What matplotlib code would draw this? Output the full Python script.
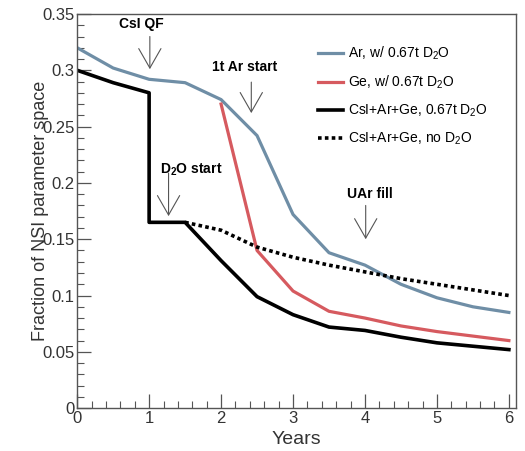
import matplotlib
matplotlib.use("Agg")
import matplotlib.pyplot as plt
from matplotlib.ticker import MultipleLocator, FixedLocator

plt.rcParams['font.family'] = ['Liberation Sans', 'DejaVu Sans']
plt.rcParams['mathtext.fontset'] = 'custom'
plt.rcParams['mathtext.rm'] = 'Liberation Sans'
plt.rcParams['mathtext.bf'] = 'Liberation Sans:bold'
plt.rcParams['mathtext.it'] = 'Liberation Sans:italic'

years = [0, 0.5, 1, 1.5, 2, 2.5, 3, 3.5, 4, 4.5, 5, 5.5, 6]
ar = [0.320, 0.302, 0.292, 0.289, 0.274, 0.242, 0.172, 0.138, 0.127, 0.110, 0.098, 0.090, 0.085]

ge_years = [2, 2.5, 3, 3.5, 4, 4.5, 5, 5.5, 6]
ge = [0.270, 0.140, 0.104, 0.086, 0.080, 0.073, 0.068, 0.064, 0.060]

comb_years = [0, 0.5, 1, 1, 1.5, 2, 2.5, 3, 3.5, 4, 4.5, 5, 5.5, 6]
comb = [0.300, 0.289, 0.280, 0.165, 0.165, 0.131, 0.099, 0.083, 0.072, 0.069, 0.063, 0.058, 0.055, 0.052]

nod2o_years = [1.5, 2, 2.5, 3, 3.5, 4, 4.5, 5, 5.5, 6]
nod2o = [0.165, 0.158, 0.143, 0.134, 0.127, 0.121, 0.115, 0.110, 0.105, 0.100]

# (text, arrow x, arrow start y, arrow tip y, text x, text y)
annotations = [
    ("CsI QF", 1.01, 0.330, 0.301, 0.89, 0.341),
    (r"D$_\mathbf{2}$O start", 1.27, 0.2087, 0.1705, 1.58, 0.212),
    ("1t Ar start", 2.42, 0.2895, 0.262, 2.33, 0.3033),
    ("UAr fill", 4.01, 0.180, 0.150, 4.07, 0.190),
]

fig = plt.figure(figsize=(5.25, 4.51), dpi=100)
ax = fig.add_axes([0.147, 0.095, 0.836, 0.874])

ax.plot(years, ar, color='#6f8ea6', lw=2.3, label='Ar, w/ 0.67t D$_2$O')
ax.plot(ge_years, ge, color='#d65a5f', lw=2.3, label='Ge, w/ 0.67t D$_2$O')
ax.plot(comb_years, comb, color='black', lw=2.6, label='CsI+Ar+Ge, 0.67t D$_2$O')
ax.plot(nod2o_years, nod2o, color='black', lw=2.6, ls=(0, (1, 0.9)), label='CsI+Ar+Ge, no D$_2$O')

for txt, x, y0, y1, tx, ty in annotations:
    ax.annotate('', xy=(x, y1), xytext=(x, y0),
                arrowprops=dict(arrowstyle='->,head_length=1.4,head_width=0.8', color='#555555',
                                lw=0.8, shrinkA=0, shrinkB=0, mutation_scale=10))
    ax.text(tx, ty, txt, ha='center', va='center', fontsize=10, fontweight='bold')

ax.set_xlim(0, 6.1)
ax.set_ylim(0, 0.35)
ax.xaxis.set_major_locator(FixedLocator([0, 1, 2, 3, 4, 5, 6]))
ax.xaxis.set_minor_locator(MultipleLocator(0.2))
ax.set_yticks([0, 0.05, 0.1, 0.15, 0.2, 0.25, 0.3, 0.35])
ax.set_yticklabels(['0', '0.05', '0.1', '0.15', '0.2', '0.25', '0.3', '0.35'])
ax.yaxis.set_minor_locator(MultipleLocator(0.01))

ax.tick_params(which='both', direction='in', color='#555555', labelsize=12, labelcolor='#333333')
ax.tick_params(which='major', length=10, width=0.9)
ax.tick_params(which='minor', length=5, width=0.8)
ax.tick_params(axis='x', pad=2)
ax.tick_params(axis='y', pad=2)
for s in ax.spines.values():
    s.set_color('#555555')
    s.set_linewidth(1.0)

ax.set_xlabel('Years', fontsize=14, color='#333333', labelpad=4)
ax.set_ylabel('Fraction of NSI parameter space', fontsize=13, color='#333333', labelpad=-5)

leg = ax.legend(loc='upper left', bbox_to_anchor=(0.537, 0.937), frameon=False, fontsize=10,
                handlelength=1.8, handletextpad=0.3, labelspacing=0.85, borderaxespad=0)

fig.savefig('out.png', dpi=100)
